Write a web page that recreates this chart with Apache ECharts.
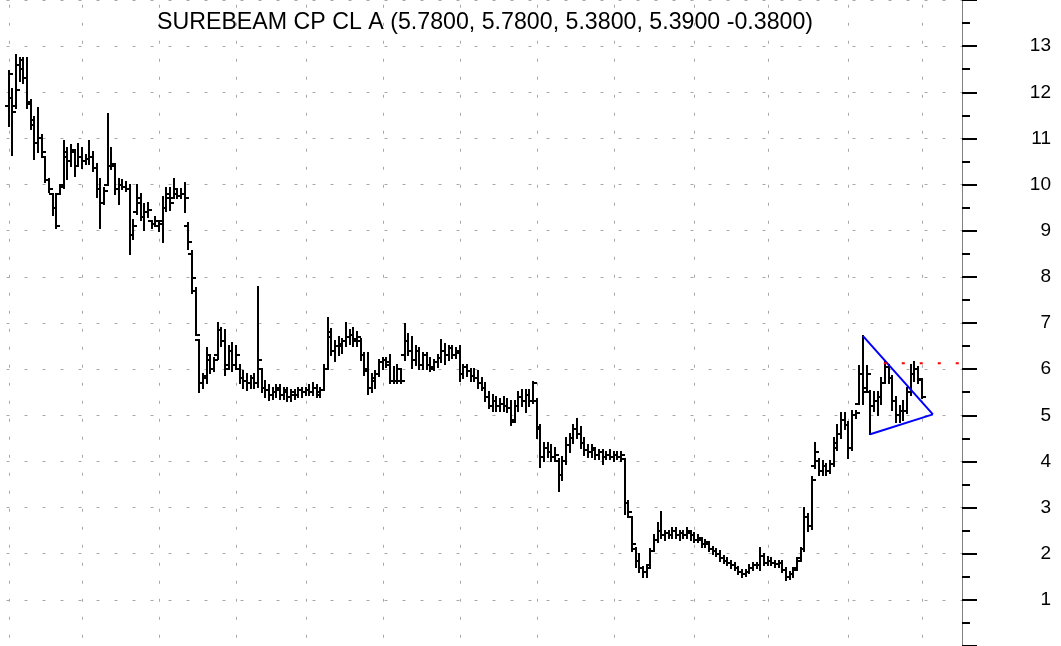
<!DOCTYPE html>
<html>
<head>
<meta charset="utf-8">
<script src="https://cdn.jsdelivr.net/npm/echarts@6/dist/echarts.min.js"></script>
<style>
  html, body { margin: 0; padding: 0; background: #ffffff; }
  #chart { width: 1061px; height: 646px; }
</style>
</head>
<body>
<div id="chart"></div>
<script>
// Daily price bars (open / high / low / close), one entry per trading day.
const opens = [
  11.7, 11.87, 11.7, 12.6, 12.5, 12.3, 11.8, 11.4, 10.9, 11.0,
  10.6, 10.1, 9.8, 9.5, 9.8, 10.0, 10.6, 10.5, 10.7, 10.4,
  10.6, 10.5, 10.55, 10.6, 10.35, 9.9, 9.6, 10.0, 10.4, 10.4,
  9.9, 10.0, 9.95, 9.9, 8.9, 9.4, 9.6, 9.3, 9.4, 9.2,
  9.15, 9.1, 9.2, 9.5, 9.7, 9.7, 9.8, 9.75, 9.8, 9.1,
  8.5, 7.7, 6.64, 5.7, 5.8, 6.2, 6.0, 6.3, 6.85, 6.6,
  6.1, 6.4, 6.1, 6.0, 5.8, 5.75, 5.7, 5.8, 5.7, 6.0,
  5.6, 5.55, 5.45, 5.5, 5.55, 5.45, 5.5, 5.4, 5.45, 5.45,
  5.55, 5.5, 5.55, 5.5, 5.6, 5.45, 5.55, 6.0, 6.7, 6.4,
  6.5, 6.5, 6.6, 6.7, 6.75, 6.65, 6.6, 6.3, 6.0, 5.6,
  5.75, 5.9, 6.15, 6.2, 6.1, 5.75, 5.75, 5.75, 6.3, 6.6,
  6.4, 6.2, 6.4, 6.1, 6.3, 6.1, 6.05, 6.15, 6.25, 6.4,
  6.3, 6.45, 6.3, 6.4, 5.9, 6.05, 5.95, 5.85, 5.8, 5.7,
  5.6, 5.4, 5.2, 5.3, 5.2, 5.25, 5.2, 5.15, 4.9, 5.2,
  5.4, 5.3, 5.45, 5.3, 5.3, 4.7, 4.1, 4.3, 4.2, 4.1,
  4.0, 3.7, 4.0, 4.35, 4.5, 4.7, 4.6, 4.4, 4.25, 4.2,
  4.25, 4.15, 4.2, 4.1, 4.15, 4.1, 4.15, 4.1, 4.05, 3.1,
  2.8, 2.1, 1.85, 1.7, 1.6, 1.75, 2.05, 2.3, 2.5, 2.4,
  2.45, 2.4, 2.5, 2.4, 2.45, 2.4, 2.45, 2.4, 2.3, 2.3,
  2.2, 2.2, 2.1, 2.05, 2.0, 1.9, 1.85, 1.8, 1.75, 1.7,
  1.6, 1.55, 1.6, 1.7, 1.75, 1.75, 1.95, 1.8, 1.85, 1.8,
  1.78, 1.8, 1.65, 1.5, 1.55, 1.7, 1.9, 2.1, 2.8, 2.6,
  3.9, 4.0, 3.8, 3.9, 3.8, 3.95, 4.3, 4.6, 4.9, 4.8,
  4.3, 5.0, 5.25, 5.9, 5.6, 5.5, 5.2, 5.3, 5.4, 5.7,
  6.05, 5.8, 5.3, 5.0, 5.1, 5.1, 5.5, 5.9, 6.0, 5.78
];
const highs = [
  12.47, 12.08, 12.8, 12.75, 12.75, 12.75, 11.83, 11.46, 11.67, 11.07,
  10.6, 10.13, 9.8, 9.8, 10.0, 10.95, 10.8, 10.85, 10.74, 10.87,
  10.8, 10.65, 10.95, 10.7, 10.45, 10.13, 9.92, 11.52, 10.8, 10.45,
  10.13, 10.1, 10.05, 10.0, 9.23, 9.98, 9.8, 9.57, 9.6, 9.2,
  9.3, 9.2, 9.72, 9.92, 9.92, 10.13, 9.9, 9.9, 10.03, 9.16,
  8.55, 7.75, 6.64, 5.9, 6.46, 6.29, 6.25, 7.0, 6.9, 6.85,
  6.5, 6.56, 6.5, 6.1, 5.95, 5.9, 5.85, 5.9, 7.77, 6.0,
  5.74, 5.65, 5.6, 5.65, 5.65, 5.6, 5.6, 5.55, 5.55, 5.6,
  5.6, 5.6, 5.65, 5.7, 5.65, 5.6, 6.1, 7.1, 6.87, 6.6,
  6.7, 6.65, 7.0, 6.85, 6.9, 6.8, 6.65, 6.35, 6.36, 5.9,
  5.95, 6.2, 6.25, 6.25, 6.3, 6.05, 6.1, 6.0, 6.97, 6.77,
  6.7, 6.5, 6.45, 6.35, 6.36, 6.25, 6.2, 6.3, 6.64, 6.55,
  6.5, 6.5, 6.45, 6.5, 6.1, 6.1, 6.0, 6.0, 5.95, 5.8,
  5.7, 5.5, 5.45, 5.4, 5.35, 5.4, 5.35, 5.3, 5.3, 5.5,
  5.55, 5.55, 5.55, 5.73, 5.35, 4.8, 4.4, 4.4, 4.35, 4.3,
  4.05, 4.1, 4.5, 4.6, 4.8, 4.92, 4.75, 4.5, 4.35, 4.35,
  4.3, 4.25, 4.25, 4.2, 4.25, 4.2, 4.2, 4.2, 4.05, 3.15,
  2.8, 2.13, 2.0, 1.72, 1.75, 2.1, 2.4, 2.66, 2.9, 2.5,
  2.5, 2.55, 2.55, 2.5, 2.5, 2.55, 2.5, 2.45, 2.4, 2.33,
  2.3, 2.25, 2.15, 2.1, 2.05, 1.95, 1.9, 1.85, 1.8, 1.72,
  1.65, 1.65, 1.75, 1.8, 1.8, 2.13, 2.0, 1.92, 1.9, 1.85,
  1.85, 1.84, 1.7, 1.6, 1.7, 1.9, 2.13, 3.0, 2.85, 3.67,
  4.4, 4.05, 4.0, 3.95, 4.0, 4.5, 4.8, 5.06, 5.05, 4.85,
  5.1, 5.1, 6.07, 6.72, 6.07, 5.53, 5.5, 5.5, 5.8, 6.15,
  6.1, 5.85, 5.4, 5.2, 5.3, 5.6, 6.1, 6.15, 6.05, 5.78
];
const lows = [
  11.26, 10.64, 11.67, 12.24, 12.2, 11.67, 11.2, 10.56, 10.7, 10.6,
  10.05, 9.84, 9.35, 9.05, 9.8, 9.92, 10.13, 10.4, 10.19, 10.4,
  10.35, 10.45, 10.44, 10.3, 9.74, 9.06, 9.57, 9.98, 10.33, 9.8,
  9.57, 9.9, 9.85, 8.49, 8.82, 9.37, 9.23, 9.02, 9.3, 9.05,
  9.1, 9.0, 8.76, 9.43, 9.45, 9.7, 9.7, 9.7, 9.41, 8.6,
  7.66, 6.74, 5.51, 5.6, 5.69, 5.92, 5.95, 6.23, 6.5, 5.88,
  6.0, 5.95, 6.0, 5.7, 5.6, 5.55, 5.6, 5.6, 5.61, 5.5,
  5.4, 5.33, 5.35, 5.4, 5.35, 5.35, 5.3, 5.3, 5.35, 5.4,
  5.4, 5.45, 5.45, 5.45, 5.4, 5.4, 5.55, 6.0, 6.3, 6.18,
  6.3, 6.35, 6.5, 6.55, 6.5, 6.5, 6.2, 5.88, 5.47, 5.5,
  5.6, 5.85, 6.0, 6.05, 5.7, 5.7, 5.7, 5.7, 6.2, 6.3,
  6.03, 6.1, 6.0, 6.0, 6.0, 5.96, 5.98, 6.05, 6.15, 6.12,
  6.2, 6.25, 6.25, 5.75, 5.8, 5.85, 5.75, 5.75, 5.6, 5.55,
  5.3, 5.15, 5.1, 5.1, 5.1, 5.1, 5.07, 4.8, 4.85, 5.1,
  5.2, 5.07, 5.2, 5.27, 4.5, 3.87, 4.0, 4.1, 4.0, 4.0,
  3.35, 3.6, 3.95, 4.2, 4.4, 4.5, 4.3, 4.15, 4.1, 4.1,
  4.05, 4.05, 3.95, 4.05, 4.05, 4.0, 4.05, 4.0, 2.87, 2.8,
  2.05, 1.72, 1.6, 1.5, 1.5, 1.7, 2.05, 2.25, 2.33, 2.3,
  2.35, 2.35, 2.35, 2.3, 2.35, 2.35, 2.3, 2.25, 2.25, 2.15,
  2.15, 2.05, 2.0, 1.95, 1.85, 1.8, 1.75, 1.7, 1.65, 1.55,
  1.5, 1.52, 1.58, 1.65, 1.7, 1.64, 1.75, 1.75, 1.75, 1.72,
  1.72, 1.6, 1.43, 1.45, 1.5, 1.65, 1.84, 2.05, 2.5, 2.54,
  3.85, 3.7, 3.7, 3.7, 3.75, 3.9, 4.25, 4.5, 4.7, 4.08,
  4.25, 4.95, 5.25, 5.25, 5.53, 4.59, 5.1, 5.0, 5.25, 5.7,
  5.7, 5.12, 4.85, 4.85, 4.9, 5.05, 5.45, 5.75, 5.7, 5.38
];
const closes = [
  12.4, 11.58, 12.05, 12.7, 12.3, 11.75, 11.3, 10.9, 11.0, 10.7,
  10.1, 9.9, 9.5, 9.1, 9.95, 10.7, 10.5, 10.75, 10.4, 10.6,
  10.5, 10.55, 10.6, 10.35, 9.9, 9.6, 9.85, 10.4, 10.45, 9.9,
  10.0, 9.95, 9.9, 8.9, 9.1, 9.7, 9.3, 9.4, 9.45, 9.15,
  9.2, 9.15, 9.5, 9.8, 9.6, 9.9, 9.75, 9.8, 9.7, 8.75,
  7.97, 6.75, 5.7, 5.85, 6.3, 6.0, 6.2, 6.85, 6.6, 6.0,
  6.4, 6.1, 6.3, 5.8, 5.75, 5.7, 5.8, 5.7, 6.2, 5.6,
  5.55, 5.45, 5.5, 5.6, 5.45, 5.55, 5.4, 5.5, 5.45, 5.55,
  5.5, 5.55, 5.5, 5.6, 5.5, 5.55, 6.0, 6.8, 6.4, 6.5,
  6.55, 6.6, 6.7, 6.75, 6.6, 6.7, 6.3, 5.95, 5.6, 5.8,
  5.9, 6.15, 6.2, 6.15, 5.75, 5.75, 6.0, 5.75, 6.6, 6.4,
  6.2, 6.4, 6.1, 6.3, 6.1, 6.0, 6.15, 6.25, 6.4, 6.3,
  6.45, 6.3, 6.35, 5.9, 6.05, 5.95, 5.85, 5.8, 5.7, 5.6,
  5.4, 5.2, 5.3, 5.2, 5.25, 5.2, 5.15, 4.85, 5.2, 5.4,
  5.3, 5.45, 5.3, 5.7, 4.75, 4.1, 4.3, 4.2, 4.1, 4.15,
  3.7, 4.0, 4.35, 4.5, 4.7, 4.6, 4.4, 4.25, 4.2, 4.3,
  4.15, 4.2, 4.1, 4.15, 4.1, 4.15, 4.1, 4.15, 3.1, 2.9,
  2.2, 1.85, 1.7, 1.6, 1.7, 2.05, 2.3, 2.5, 2.4, 2.45,
  2.4, 2.5, 2.4, 2.45, 2.4, 2.5, 2.4, 2.3, 2.35, 2.2,
  2.25, 2.1, 2.05, 2.0, 1.9, 1.85, 1.8, 1.75, 1.7, 1.6,
  1.55, 1.6, 1.7, 1.75, 1.75, 1.95, 1.8, 1.85, 1.8, 1.78,
  1.8, 1.65, 1.5, 1.55, 1.65, 1.85, 2.1, 2.8, 2.6, 3.6,
  4.2, 3.8, 3.9, 3.8, 3.95, 4.4, 4.6, 4.9, 4.8, 4.3,
  5.0, 5.05, 5.9, 5.5, 5.9, 5.2, 5.3, 5.4, 5.7, 6.05,
  5.8, 5.3, 5.0, 5.1, 5.1, 5.5, 5.9, 6.0, 5.77, 5.39
];

// Bar indices where a new month begins (vertical grid lines).
const monthStarts = [0, 20, 41, 62, 81, 102, 123, 144, 165, 187, 207, 229, 249];

// Symmetrical triangle drawn over the last weeks, and the resistance level.
const triangleUpper = [[233, 6.72], [252.1, 5.02]];
const triangleLower = [[235, 4.59], [252.1, 5.02]];
const resistanceFrom = 238.7;
const resistanceLevel = 6.13;

const securityName = 'SUREBEAM CP CL A';

// Horizontal extent of the plot in bar-index units (leaves room right of the last bar).
const xMin = -2.32;
const xMax = 260.04;

const last = opens.length - 1;
const fmt = v => v.toFixed(4);
const titleText = securityName + ' (' + fmt(opens[last]) + ', ' + fmt(highs[last]) + ', ' +
  fmt(lows[last]) + ', ' + fmt(closes[last]) + ' ' + fmt(closes[last] - closes[last - 1]) + ')';

const barData = opens.map((o, i) => [i, o, highs[i], lows[i], closes[i]]);
const gridData = monthStarts.map(i => [i, 0]);

const FONT = '"Liberation Sans", Arial, Helvetica, sans-serif';
const GRID_COLOR = '#a8a8a8';

const chart = echarts.init(document.getElementById('chart'), null, { renderer: 'canvas' });

chart.setOption({
  animation: false,
  backgroundColor: '#ffffff',
  title: {
    text: titleText,
    left: 480,
    top: 6,
    textAlign: 'center',
    textStyle: { fontFamily: FONT, fontSize: 23.2, fontWeight: 'normal', color: '#000000' }
  },
  grid: { left: 0, right: 99, top: -5.75, bottom: -30.75, containLabel: false },
  xAxis: { type: 'value', min: xMin, max: xMax, show: false },
  yAxis: {
    type: 'value',
    position: 'right',
    min: 0,
    max: 14,
    interval: 1,
    axisLine: { show: true, onZero: false, lineStyle: { color: '#808080', width: 1 } },
    axisTick: { show: true, length: 15, lineStyle: { color: '#000000', width: 2 } },
    minorTick: { show: true, splitNumber: 2, length: 8, lineStyle: { color: '#000000', width: 2 } },
    splitLine: { show: true, lineStyle: { color: GRID_COLOR, width: 1, type: [3, 15], dashOffset: 11.5 } },
    axisLabel: {
      show: true,
      color: '#000000',
      fontFamily: FONT,
      fontSize: 19,
      align: 'right',
      margin: 89,
      formatter: v => (v >= 1 && v <= 13 ? String(v) : '')
    }
  },
  series: [
    {
      // month separators
      type: 'custom',
      silent: true,
      z: 1,
      data: gridData,
      encode: { x: 0, y: 1 },
      renderItem: function (params, api) {
        const x = Math.round(api.coord([api.value(0), 0])[0]) + 0.5;
        const cs = params.coordSys;
        return {
          type: 'line',
          shape: { x1: x, y1: cs.y, x2: x, y2: cs.y + cs.height },
          style: { stroke: GRID_COLOR, lineWidth: 1, lineDash: [3, 15], lineDashOffset: 13.25 }
        };
      }
    },
    {
      // OHLC bars: vertical high-low range, open tick left, close tick right
      type: 'custom',
      silent: true,
      z: 3,
      data: barData,
      encode: { x: 0, y: [1, 2, 3, 4] },
      renderItem: function (params, api) {
        const i = api.value(0);
        const pO = api.coord([i, api.value(1)]);
        const pH = api.coord([i, api.value(2)]);
        const pL = api.coord([i, api.value(3)]);
        const pC = api.coord([i, api.value(4)]);
        const x = Math.round(pH[0]);
        const tick = 4;
        const st = { stroke: '#000000', lineWidth: 2 };
        return {
          type: 'group',
          children: [
            { type: 'line', shape: { x1: x, y1: Math.round(pH[1]) - 1, x2: x, y2: Math.round(pL[1]) + 1 }, style: st },
            { type: 'line', shape: { x1: x - tick, y1: Math.round(pO[1]), x2: x, y2: Math.round(pO[1]) }, style: st },
            { type: 'line', shape: { x1: x, y1: Math.round(pC[1]), x2: x + tick, y2: Math.round(pC[1]) }, style: st }
          ]
        };
      }
    },
    {
      type: 'line',
      silent: true,
      z: 4,
      data: triangleUpper,
      symbol: 'none',
      lineStyle: { color: '#0000ff', width: 2 }
    },
    {
      type: 'line',
      silent: true,
      z: 4,
      data: triangleLower,
      symbol: 'none',
      lineStyle: { color: '#0000ff', width: 2 }
    },
    {
      type: 'line',
      silent: true,
      z: 4,
      data: [[resistanceFrom, resistanceLevel], [xMax, resistanceLevel]],
      symbol: 'none',
      lineStyle: { color: '#ff0000', width: 2, type: [3, 15] }
    }
  ]
});
</script>
</body>
</html>
